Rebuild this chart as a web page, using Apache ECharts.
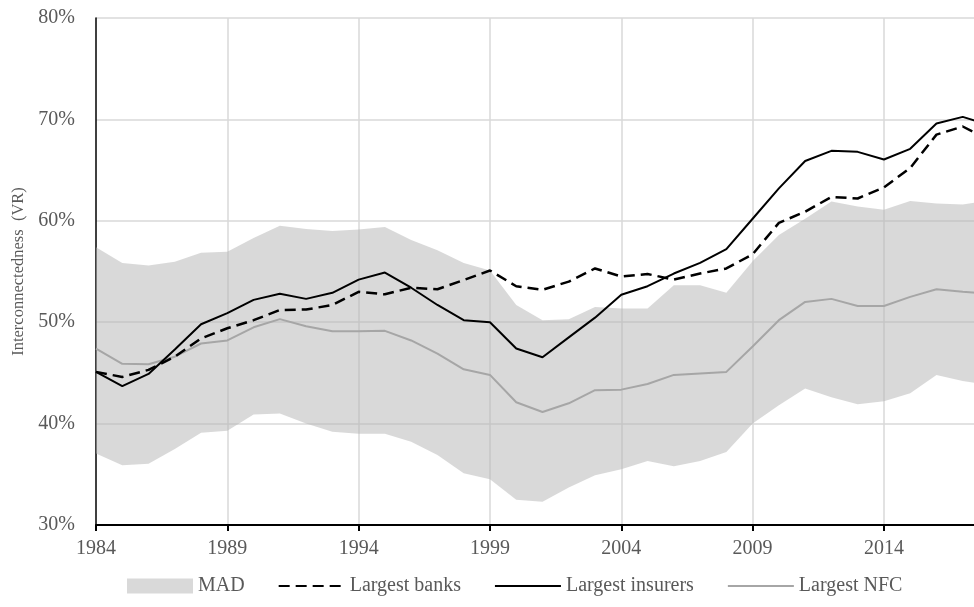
<!DOCTYPE html>
<html>
<head>
<meta charset="utf-8">
<script src="https://cdn.jsdelivr.net/npm/echarts@6/dist/echarts.min.js"></script>
<style>
html,body{margin:0;padding:0;background:#fff;overflow:hidden;width:974px;height:607px;}
#c{width:990px;height:607px;}
</style>
</head>
<body>
<div id="c"></div>
<script>
var years = ['1984','1985','1986','1987','1988','1989','1990','1991','1992','1993','1994','1995','1996','1997','1998','1999','2000','2001','2002','2003','2004','2005','2006','2007','2008','2009','2010','2011','2012','2013','2014','2015','2016','2017','2018'];
var madUpper = [57.4,55.85,55.6,55.95,56.85,56.95,58.3,59.5,59.2,59.0,59.15,59.4,58.1,57.1,55.85,55.1,51.7,50.2,50.3,51.5,51.35,51.35,53.65,53.65,52.9,56.0,58.6,60.2,61.9,61.4,61.1,61.95,61.7,61.6,62.0];
var madLower = [37.05,35.9,36.05,37.5,39.1,39.3,40.9,41.0,40.0,39.2,39.0,39.0,38.2,36.9,35.1,34.5,32.5,32.3,33.7,34.9,35.5,36.3,35.8,36.3,37.2,40.0,41.8,43.45,42.6,41.9,42.2,43.0,44.8,44.2,43.8];
var banks = [45.1,44.6,45.3,46.6,48.4,49.4,50.2,51.2,51.25,51.7,53.0,52.75,53.4,53.25,54.15,55.1,53.55,53.2,54.0,55.3,54.5,54.75,54.2,54.8,55.3,56.7,59.8,60.9,62.35,62.2,63.3,65.2,68.5,69.3,68.0];
var insurers = [45.1,43.7,44.9,47.3,49.8,50.9,52.2,52.8,52.3,52.9,54.2,54.9,53.4,51.7,50.2,50.0,47.4,46.55,48.5,50.45,52.7,53.55,54.8,55.85,57.2,60.2,63.2,65.9,66.9,66.8,66.05,67.1,69.6,70.25,69.45];
var nfc = [47.4,45.9,45.85,46.6,47.9,48.2,49.5,50.3,49.6,49.1,49.1,49.15,48.2,46.9,45.35,44.8,42.1,41.15,42.0,43.3,43.35,43.9,44.8,44.95,45.1,47.6,50.2,52.0,52.3,51.6,51.6,52.5,53.25,53.0,52.8];
var yTicks = [30,40,50,60,70,80];

var madSpan = madUpper.map(function(v,i){ return +(v - madLower[i]).toFixed(2); });
var FONT = "'Times New Roman','Liberation Serif',serif";

var chart = echarts.init(document.getElementById('c'), null, {renderer:'canvas'});
chart.setOption({
  animation:false,
  backgroundColor:'#ffffff',
  grid:{left:96, right:1, top:18, bottom:82, containLabel:false},
  legend:{
    left:122, top:571, itemGap:33, itemWidth:66, itemHeight:15,
    textStyle:{fontFamily:FONT, fontSize:20, color:'#595959'},
    data:[
      {name:'MAD', icon:'rect'},
      {name:'Largest banks', itemStyle:{opacity:0}},
      {name:'Largest insurers', itemStyle:{opacity:0}},
      {name:'Largest NFC', itemStyle:{opacity:0}}
    ]
  },
  xAxis:{
    type:'category', data:years, boundaryGap:false,
    axisLine:{lineStyle:{color:'#000', width:2}},
    axisTick:{show:true, inside:false, length:6, interval:function(i){return i%5===0;}, lineStyle:{color:'#000', width:2}},
    axisLabel:{interval:function(i){return i%5===0;}, fontFamily:FONT, fontSize:20, color:'#595959', margin:14},
    splitLine:{show:true, interval:function(i){return i%5===0 && i>0;}, lineStyle:{color:'#d9d9d9', width:1.5}}
  },
  yAxis:{
    type:'value', min:yTicks[0], max:yTicks[yTicks.length-1], interval:10,
    name:'Interconnectedness  (VR)', nameLocation:'middle', nameGap:64, nameRotate:90,
    nameTextStyle:{fontFamily:FONT, fontSize:16.5, color:'#595959'},
    axisLine:{show:true, lineStyle:{color:'#000', width:1.5}},
    axisTick:{show:false},
    axisLabel:{formatter:'{value}%', fontFamily:FONT, fontSize:20, color:'#595959', margin:21},
    splitLine:{show:true, lineStyle:{color:'#d9d9d9', width:1.5}}
  },
  series:[
    {name:'madBase', type:'line', stack:'mad', data:madLower, symbol:'none', lineStyle:{opacity:0}, silent:true, z:1},
    {name:'MAD', type:'line', stack:'mad', data:madSpan, symbol:'none', color:'rgba(180,180,180,0.5)',
     lineStyle:{opacity:0, width:0}, areaStyle:{color:'rgba(180,180,180,0.5)', opacity:1}, itemStyle:{color:'#d9d9d9'}, z:1},
    {name:'Largest NFC', type:'line', data:nfc, symbol:'none', color:'#a6a6a6', lineStyle:{color:'#a6a6a6', width:2}, z:3},
    {name:'Largest banks', type:'line', data:banks, symbol:'none', color:'#000', lineStyle:{color:'#000', width:2.5, type:[11,6]}, z:4},
    {name:'Largest insurers', type:'line', data:insurers, symbol:'none', color:'#000', lineStyle:{color:'#000', width:2}, z:5}
  ]
});
</script>
</body>
</html>
